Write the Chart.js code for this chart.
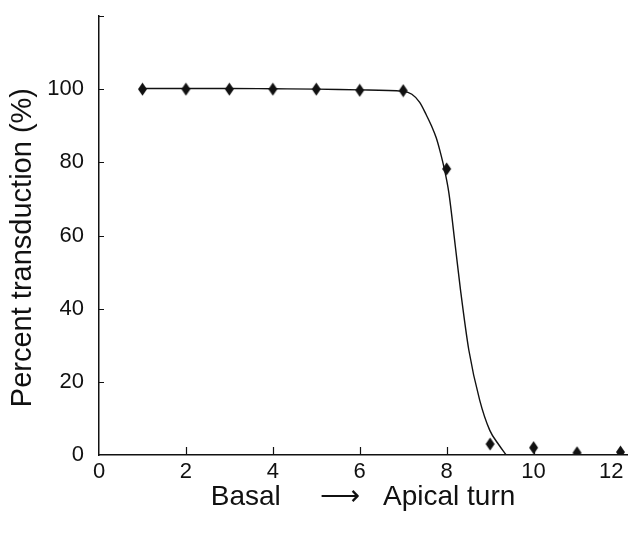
<!DOCTYPE html>
<html>
<head>
<meta charset="utf-8">
<script src="https://cdn.jsdelivr.net/npm/chart.js@4.4.1/dist/chart.umd.min.js"></script>
<style>
  html, body { margin: 0; padding: 0; background: #ffffff; }
  #wrap { width: 629px; height: 535px; }
</style>
</head>
<body>
<div id="wrap"><canvas id="c" width="629" height="535"></canvas></div>
<script>
// Measured data points (position along cochlea, percent transduction)
const positions = [1, 2, 3, 4, 5, 6, 7, 8, 9, 10, 11, 12];
const transduction = [100, 100, 100, 100, 100, 99.7, 99.6, 78.2, 3, 2, 0.6, 0.8];

// Fitted curve
const curveX = [1, 2, 3, 4, 5, 6, 7, 7.2, 7.38, 7.53, 7.65, 7.76, 7.84, 7.95, 8.05, 8.2, 8.32, 8.51, 8.76, 8.99, 9.2, 9.37];
const curveY = [100.2, 100.2, 100.2, 100.1, 100, 99.8, 99.4, 98.6, 96.4, 93, 90, 86.7, 83.4, 78, 71.7, 57, 45, 28.7, 15, 6.8, 2.8, 0];

// Axis ticks
const xTicks = [0, 2, 4, 6, 8, 10, 12];
const yTicks = [0, 20, 40, 60, 80, 100, 120];
const yLabelHidden = [120];

const NB = '\u00a0';
const xTitle = 'Basal' + NB.repeat(5) + '\u27F6' + NB.repeat(3) + 'Apical turn';
const yTitle = 'Percent transduction (%)' + NB.repeat(3);

const FONT = '"Liberation Sans", Arial, Helvetica, sans-serif';
const INK = '#111111';

// diamond marker image
function makeDiamond() {
  const cv = document.createElement('canvas');
  cv.width = 11; cv.height = 14;
  const g = cv.getContext('2d');
  g.fillStyle = INK;
  g.beginPath();
  g.moveTo(5.5, 0.5);
  g.lineTo(10, 7);
  g.lineTo(5.5, 13.5);
  g.lineTo(1, 7);
  g.closePath();
  g.fill();
  return cv;
}
const diamond = makeDiamond();

const pointData = positions.map((x, i) => ({ x: x, y: transduction[i] }));
const curveData = curveX.map((x, i) => ({ x: x, y: curveY[i] }));

// inward tick marks drawn with the library's scales
const inwardTicks = {
  id: 'inwardTicks',
  afterDraw(chart) {
    const ctx = chart.ctx;
    const xs = chart.scales.x, ys = chart.scales.y;
    const area = chart.chartArea;
    ctx.save();
    ctx.strokeStyle = INK;
    ctx.lineWidth = 1.2;
    ctx.beginPath();
    xs.ticks.forEach(t => {
      if (t.value === 0) return;
      const px = Math.round(xs.getPixelForValue(t.value)) + 0.5;
      ctx.moveTo(px, area.bottom);
      ctx.lineTo(px, area.bottom - 8);
    });
    ys.ticks.forEach(t => {
      if (t.value === 0) return;
      const py = Math.round(ys.getPixelForValue(t.value)) + 0.5;
      ctx.moveTo(area.left, py);
      ctx.lineTo(area.left + 5, py);
    });
    ctx.stroke();
    ctx.restore();
  }
};

new Chart(document.getElementById('c'), {
  type: 'scatter',
  data: {
    datasets: [
      {
        label: 'fit',
        data: curveData,
        showLine: true,
        borderColor: INK,
        borderWidth: 1.4,
        pointRadius: 0,
        cubicInterpolationMode: 'monotone',
        fill: false,
        order: 2
      },
      {
        label: 'data',
        data: pointData,
        showLine: false,
        pointStyle: diamond,
        pointRadius: 6,
        backgroundColor: INK,
        borderColor: INK,
        order: 1
      }
    ]
  },
  options: {
    responsive: false,
    animation: false,
    devicePixelRatio: 1,
    layout: { autoPadding: false, padding: { top: 16, right: 2, left: 0, bottom: 0 } },
    plugins: { legend: { display: false }, tooltip: { enabled: false } },
    scales: {
      x: {
        type: 'linear',
        min: 0,
        max: 12.15,
        afterBuildTicks(s) { s.ticks = xTicks.map(v => ({ value: v })); },
        afterFit(s) { s.height = 80; s.paddingRight = 0; s.paddingLeft = 0; },
        grid: { display: false, drawTicks: false },
        border: { display: true, color: INK, width: 1.5 },
        ticks: {
          color: INK,
          font: { family: FONT, size: 22 },
          padding: 4,
          maxRotation: 0,
          autoSkip: false,
          callback: v => (v === 12 ? '12' + NB.repeat(3) : String(v))
        },
        title: {
          display: true,
          text: xTitle,
          color: INK,
          font: { family: FONT, size: 28 },
          padding: { top: 0, bottom: 21 }
        }
      },
      y: {
        type: 'linear',
        min: 0,
        max: 120,
        afterBuildTicks(s) { s.ticks = yTicks.map(v => ({ value: v })); },
        afterFit(s) { s.width = 99; s.paddingTop = 0; s.paddingBottom = 0; },
        grid: { display: false, drawTicks: false },
        border: { display: true, color: INK, width: 1.5 },
        ticks: {
          color: INK,
          font: { family: FONT, size: 22 },
          padding: 15,
          autoSkip: false,
          callback: v => (yLabelHidden.includes(v) ? '' : String(v))
        },
        title: {
          display: true,
          text: yTitle,
          color: INK,
          font: { family: FONT, size: 29 },
          padding: { top: 6, bottom: 0 }
        }
      }
    }
  },
  plugins: [inwardTicks]
});
</script>
</body>
</html>
